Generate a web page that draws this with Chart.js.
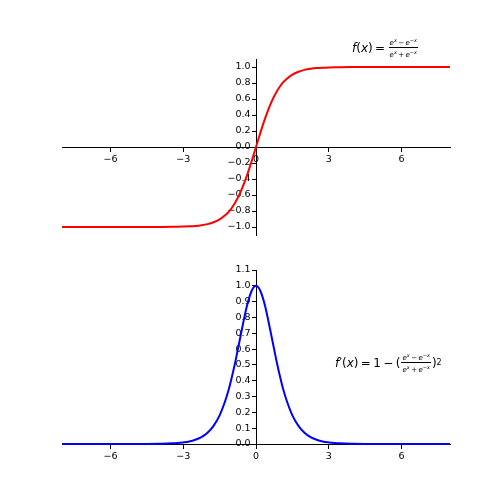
<!DOCTYPE html>
<html>
<head>
<meta charset="utf-8">
<script src="https://cdn.jsdelivr.net/npm/chart.js@4"></script>
<style>
  body { margin: 0; background: #fff; }
  #wrap { position: relative; width: 500px; height: 500px; }
  canvas { position: absolute; left: 0; }
  .lbl { position: absolute; font-family: "DejaVu Sans", sans-serif; font-size: 12px; color: #000; display: flex; align-items: center; white-space: nowrap; }
  .frac { display: inline-flex; flex-direction: column; align-items: center; font-size: 7px; margin: 0 1px; }
  .frac span { padding: 0 1px; line-height: 8px; }
  .frac span:first-child { border-bottom: 0.8px solid #000; }
  .frac sup { font-size: 5px; vertical-align: 3px; }
  .lbl > sup { font-size: 8px; vertical-align: 6px; }
</style>
</head>
<body>
<div id="wrap">
  <canvas id="top" width="500" height="250" style="top:0"></canvas>
  <canvas id="bot" width="500" height="250" style="top:250px"></canvas>
  <div class="lbl" style="left:352px;top:36px"><i>f</i>(<i>x</i>)&thinsp;=&thinsp;<span class="frac"><span><i>e<sup>x</sup></i>&thinsp;−&thinsp;<i>e<sup>−x</sup></i></span><span><i>e<sup>x</sup></i>&thinsp;+&thinsp;<i>e<sup>−x</sup></i></span></span></div>
  <div class="lbl" style="left:335px;top:351px"><i>f</i>′(<i>x</i>)&thinsp;=&thinsp;1&thinsp;−&thinsp;(<span class="frac"><span><i>e<sup>x</sup></i>&thinsp;−&thinsp;<i>e<sup>−x</sup></i></span><span><i>e<sup>x</sup></i>&thinsp;+&thinsp;<i>e<sup>−x</sup></i></span></span>)<sup>2</sup></div>
</div>
<script>
// sample points
const xs = [-8, -7, -6, -5, -4.5, -4, -3.5, -3.25, -3, -2.75, -2.5, -2.25, -2, -1.75, -1.5, -1.25, -1.125, -1,
            -0.875, -0.75, -0.625, -0.5, -0.375, -0.25, -0.125, 0,
            0.125, 0.25, 0.375, 0.5, 0.625, 0.75, 0.875, 1, 1.125, 1.25, 1.5, 1.75, 2,
            2.25, 2.5, 2.75, 3, 3.25, 3.5, 4, 4.5, 5, 6, 7, 8];
const tanhVals = [-1.0, -1.0, -1.0, -1.0, -1.0, -0.999, -0.998, -0.997, -0.995, -0.992, -0.987, -0.978, -0.964, -0.941, -0.905, -0.848, -0.810, -0.762,
                  -0.704, -0.635, -0.555, -0.462, -0.358, -0.245, -0.124, 0,
                  0.124, 0.245, 0.358, 0.462, 0.555, 0.635, 0.704, 0.762, 0.810, 0.848, 0.905, 0.941, 0.964,
                  0.978, 0.987, 0.992, 0.995, 0.997, 0.998, 0.999, 1.0, 1.0, 1.0, 1.0, 1.0];
const derivVals = [0, 0, 0, 0, 0, 0.001, 0.004, 0.006, 0.01, 0.016, 0.027, 0.043, 0.071, 0.115, 0.181, 0.281, 0.344, 0.42,
                   0.504, 0.597, 0.692, 0.786, 0.872, 0.94, 0.985, 1.0,
                   0.985, 0.94, 0.872, 0.786, 0.692, 0.597, 0.504, 0.42, 0.344, 0.281, 0.181, 0.115, 0.071,
                   0.043, 0.027, 0.016, 0.01, 0.006, 0.004, 0.001, 0, 0, 0, 0, 0];

const xTicks = [-6, -3, 0, 3, 6];
const topYTicks = [-1.0, -0.8, -0.6, -0.4, -0.2, 0.0, 0.2, 0.4, 0.6, 0.8, 1.0];
const botYTicks = [0.0, 0.1, 0.2, 0.3, 0.4, 0.5, 0.6, 0.7, 0.8, 0.9, 1.0, 1.1];

const font = { family: 'DejaVu Sans', size: 9.5 };
const fmt = (v, d) => v.toFixed(d).replace('-', '\u2212');

function makeChart(id, ys, color, yMin, yMax, yTicks, pad) {
    const points = xs.map((x, i) => ({ x: x, y: ys[i] }));
    return new Chart(document.getElementById(id), {
        type: 'line',
        data: {
            datasets: [{
                data: points,
                borderColor: color,
                borderWidth: 2,
                pointRadius: 0,
                cubicInterpolationMode: 'monotone',
                fill: false,
                clip: false
            }]
        },
        options: {
            responsive: false,
            animation: false,
            layout: { padding: pad },
            plugins: { legend: { display: false }, tooltip: { enabled: false } },
            scales: {
                x: {
                    type: 'linear',
                    min: -8, max: 8,
                    position: { y: 0 },
                    afterBuildTicks: s => { s.ticks = xTicks.map(v => ({ value: v })); },
                    afterFit: s => { s.height = 0; },
                    grid: { drawOnChartArea: false, drawTicks: true, tickLength: 4, color: '#000' },
                    border: { display: true, color: '#000', width: 1 },
                    ticks: { font: font, color: '#000', padding: 3, maxRotation: 0, autoSkip: false,
                             callback: v => fmt(v, 0) }
                },
                y: {
                    type: 'linear',
                    min: yMin, max: yMax,
                    // x range is symmetric, so the centre of the area is x = 0
                    position: 'center',
                    afterBuildTicks: s => { s.ticks = yTicks.map(v => ({ value: v })); },
                    afterFit: s => { s.width = 0; },
                    grid: { drawOnChartArea: false, drawTicks: true, tickLength: 4, color: '#000' },
                    border: { display: true, color: '#000', width: 1 },
                    ticks: { font: font, color: '#000', padding: 1.5, autoSkip: false,
                             callback: v => fmt(v, 1) }
                }
            }
        }
    });
}

makeChart('top', tanhVals, '#ff0000', -1.1, 1.1, topYTicks, { left: 62, right: 50, top: 59, bottom: 15 });
makeChart('bot', derivVals, '#0000ff', 0, 1.1, botYTicks, { left: 62, right: 50, top: 20, bottom: 56 });
</script>
</body>
</html>
